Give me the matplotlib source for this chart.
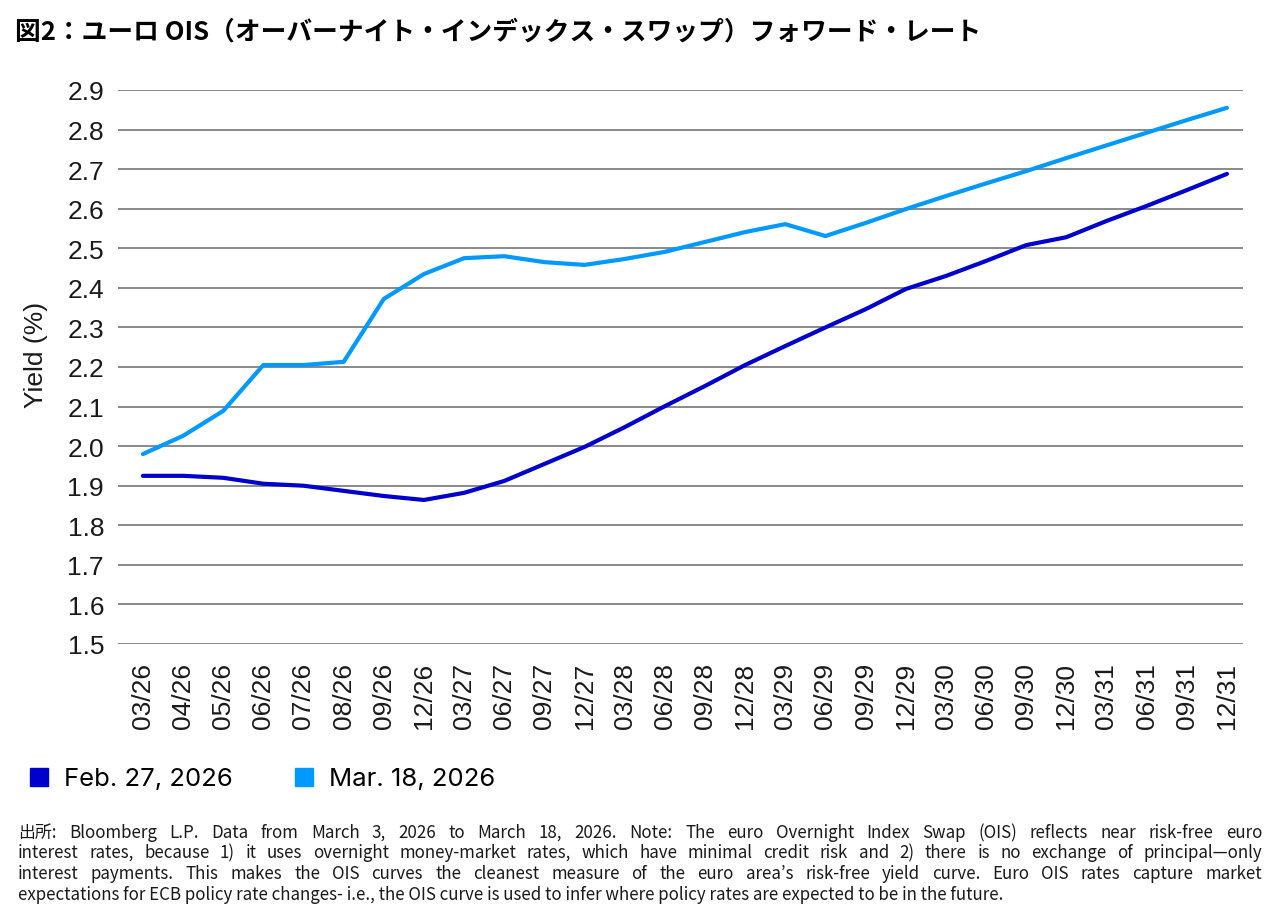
import numpy as np
import matplotlib
matplotlib.use('Agg')
import matplotlib.pyplot as plt
from matplotlib.lines import Line2D

# x categories (month/year of forward start)
Periods = ['03/26','04/26','05/26','06/26','07/26','08/26','09/26','12/26',
           '03/27','06/27','09/27','12/27','03/28','06/28','09/28','12/28',
           '03/29','06/29','09/29','12/29','03/30','06/30','09/30','12/30',
           '03/31','06/31','09/31','12/31']

# Feb. 27, 2026 curve
Feb27 = [1.925, 1.925, 1.920, 1.905, 1.900, 1.887, 1.874, 1.864,
         1.882, 1.912, 1.955, 1.998, 2.048, 2.101, 2.152, 2.205,
         2.253, 2.300, 2.346, 2.397, 2.430, 2.468, 2.508, 2.528,
         2.569, 2.607, 2.647, 2.688]

# Mar. 18, 2026 curve
Mar18 = [1.980, 2.026, 2.089, 2.205, 2.205, 2.213, 2.372, 2.435,
         2.475, 2.480, 2.465, 2.458, 2.473, 2.491, 2.516, 2.541,
         2.561, 2.531, 2.564, 2.599, 2.632, 2.664, 2.695, 2.728,
         2.760, 2.792, 2.824, 2.855]

Series_Labels = ['Feb. 27, 2026', 'Mar. 18, 2026']
Series_Colors = ['#0000CC', '#0099FF']

Y_Ticks = [1.5, 1.6, 1.7, 1.8, 1.9, 2.0, 2.1, 2.2, 2.3, 2.4, 2.5, 2.6, 2.7, 2.8, 2.9]

Title = '図2：ユーロ OIS（オーバーナイト・インデックス・スワップ）フォワード・レート'
Note_Lines = [
    '出所: Bloomberg L.P. Data from March 3, 2026 to March 18, 2026. Note: The euro Overnight Index Swap (OIS) reflects near risk-free euro',
    'interest rates, because 1) it uses overnight money-market rates, which have minimal credit risk and 2) there is no exchange of principal—only',
    'interest payments. This makes the OIS curves the cleanest measure of the euro area’s risk-free yield curve. Euro OIS rates capture market',
    'expectations for ECB policy rate changes- i.e., the OIS curve is used to infer where policy rates are expected to be in the future.',
]

W, H = 1280, 920
fig = plt.figure(figsize=(W/100, H/100), dpi=100)
ax = fig.add_axes([118/W, 1-645/H, (1243-118)/W, (645-91)/H])

x = np.arange(len(Periods))
for vals, lab, col in zip([Feb27, Mar18], Series_Labels, Series_Colors):
    ax.plot(x, vals, color=col, lw=3.0, solid_capstyle='round', solid_joinstyle='round', label=lab)

ax.set_xlim(-0.62, len(Periods) - 1 + 0.4)
ax.set_ylim(1.5, 2.9)
ax.set_yticks(Y_Ticks)
ax.set_yticklabels(['%.1f' % v for v in Y_Ticks])
ax.set_xticks(x)
ax.set_xticklabels(Periods, rotation=90)
for s in ax.spines.values():
    s.set_visible(False)
ax.grid(axis='y', color='#808080', lw=1.3)
ax.set_axisbelow(True)
ax.tick_params(axis='both', length=0, labelsize=19, labelcolor='#1a1a1a')
ax.tick_params(axis='y', pad=10)
ax.tick_params(axis='x', pad=13)
for t in ax.get_xticklabels() + ax.get_yticklabels():
    t.set_fontfamily('Liberation Sans')
ax.set_ylabel('Yield (%)', fontsize=19, family='Liberation Sans', color='#1a1a1a')
ax.yaxis.set_label_coords(-(118-48)/(1243-118), (645-355)/(645-91))

# title
fig.text(15/W, 1-32/H, Title, fontsize=18.5, fontweight='bold',
         family=['Noto Sans CJK JP', 'DejaVu Sans'], va='center', ha='left')

# legend
handles = [Line2D([], [], marker='s', ls='none', color=c, markersize=13.5) for c in Series_Colors]
fig.legend(handles, Series_Labels, loc='center left', bbox_to_anchor=(29/W, 1-780/H),
           ncol=2, frameon=False, prop={'family': 'Inter', 'size': 18.5},
           handlelength=0.8, handletextpad=0.55, columnspacing=2.4, borderaxespad=0, borderpad=0)

# footnote, justified like the source
renderer = fig.canvas.get_renderer()
note_font = dict(fontsize=12.2, family=['Noto Sans CJK JP', 'DejaVu Sans'], color='#1a1a1a')
x_left, x_right = 18, 1262
line_y = [833, 853, 874, 895]
for i, line in enumerate(Note_Lines):
    yy = 1 - line_y[i]/H
    if i == len(Note_Lines) - 1:
        fig.text(x_left/W, yy, line, va='center', ha='left', **note_font)
        continue
    words = line.split(' ')
    widths = []
    for w in words:
        t = fig.text(0, 0, w, **note_font)
        widths.append(t.get_window_extent(renderer).width)
        t.remove()
    gap = (x_right - x_left - sum(widths)) / (len(words) - 1)
    pos = x_left
    for w, wd in zip(words, widths):
        fig.text(pos/W, yy, w, va='center', ha='left', **note_font)
        pos += wd + gap

fig.savefig('out.png', dpi=100)
